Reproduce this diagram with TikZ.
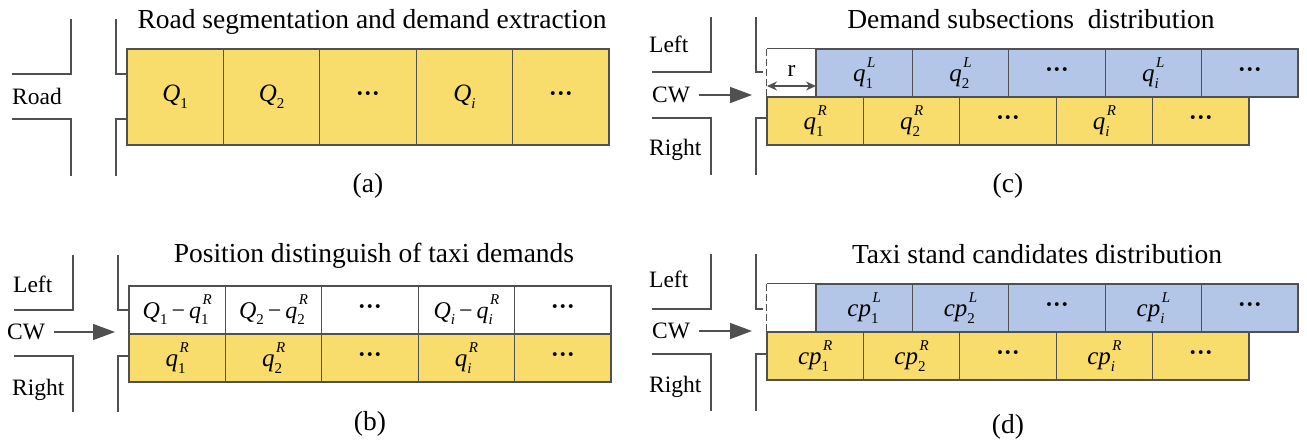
\documentclass[tikz,border=0pt]{standalone}
\usepackage{fontspec}
\setmainfont{Liberation Serif}
\usetikzlibrary{arrows.meta}
\definecolor{cy}{HTML}{F8DC6C}
\definecolor{cb}{HTML}{B4C6E7}
\definecolor{ln}{HTML}{505050}
\newcommand\scr[1]{{\fontsize{15}{15}\selectfont #1}}
\newcommand\qsym[3]{\textit{#1}\rlap{\raisebox{-0.28em}{\scr{#2}}}\kern0.06em\raisebox{0.55em}{\scr{\textit{#3}}}}
\newcommand\Qs[1]{\textit{Q}\raisebox{-0.28em}{\scr{#1}}}
\newcommand\dts{{\bfseries\fontsize{24}{24}\selectfont\textperiodcentered\textperiodcentered\textperiodcentered}}
\begin{document}
\begin{tikzpicture}[x=1pt,y=-1pt,
  cell/.style={draw=ln, line width=1.2pt, minimum width=96.4pt, inner sep=0pt, font=\fontsize{25}{25}\selectfont},
  cellY/.style={cell, fill=cy},
  cellB/.style={cell, fill=cb},
  cellW/.style={cell, fill=white},
  wall/.style={draw=ln, line width=1.4pt},
  lbl/.style={anchor=base west, inner sep=0pt, font=\fontsize{23.5}{24}\selectfont},
  ttl/.style={anchor=base, inner sep=0pt, font=\fontsize{27.5}{28}\selectfont},
  cwarrow/.style={draw=ln, line width=1.5pt, shorten <=9pt, -{Triangle[length=22pt,width=16pt]}},
  rarrow/.style={draw=ln, line width=1.3pt, {Stealth[length=10pt,width=9pt]}-{Stealth[length=10pt,width=9pt]}}
]
\useasboundingbox (0,0) rectangle (1307,447);

% ---------------- (a) ----------------
\path[wall] (71,19) -- (71,74) -- (12,74);
\path[wall] (12,119) -- (71,119) -- (71,176);
\path[wall] (116,19) -- (116,74) -- (127,74);
\path[wall] (127,119) -- (116,119) -- (116,176);
\node[lbl] (roada) at (12,104) {Road};
\node[ttl] (ta) at (372,28) {Road segmentation and demand extraction};
\node[cellY, minimum height=96pt] (a1) at (175.2,97) {\Qs{1}};
\node[cellY, minimum height=96pt] (a2) at (271.6,97) {\Qs{2}};
\node[cellY, minimum height=96pt] (a3) at (368,97) {\dts};
\node[cellY, minimum height=96pt] (a4) at (464.4,97) {\Qs{\textit{i}}};
\node[cellY, minimum height=96pt] (a5) at (560.8,97) {\dts};
\node[ttl] (capa) at (368,192) {(a)};

% ---------------- (b) ----------------
\path[wall] (73,255) -- (73,310) -- (14,310);
\path[wall] (14,356) -- (73,356) -- (73,412);
\path[wall] (118,255) -- (118,310) -- (129,310);
\path[wall] (129,356) -- (118,356) -- (118,412);
\node[lbl] (leftb) at (13,292) {Left};
\node[lbl] (rightb) at (12,395) {Right};
\node[lbl, anchor=west] (cwb) at (7,332) {CW};
\coordinate (cwbE) at (115,332);
\draw[cwarrow] (cwb.east) -- (cwbE);
\node[ttl] (tb) at (374,262) {Position distinguish of taxi demands};
\node[cellW, minimum height=48pt, font=\fontsize{24}{24}\selectfont] (bw1) at (177.2,310) {\Qs{1}\,−\,\qsym{q}{1}{R}};
\node[cellW, minimum height=48pt, font=\fontsize{24}{24}\selectfont] (bw2) at (273.6,310) {\Qs{2}\,−\,\qsym{q}{2}{R}};
\node[cellW, minimum height=48pt] (bw3) at (370,310) {\dts};
\node[cellW, minimum height=48pt, font=\fontsize{24}{24}\selectfont] (bw4) at (466.4,310) {\Qs{\textit{i}}\,−\,\qsym{q}{\textit{i}}{R}};
\node[cellW, minimum height=48pt] (bw5) at (562.8,310) {\dts};
\node[cellY, minimum height=48pt] (by1) at (177.2,358) {\qsym{q}{1}{R}};
\node[cellY, minimum height=48pt] (by2) at (273.6,358) {\qsym{q}{2}{R}};
\node[cellY, minimum height=48pt] (by3) at (370,358) {\dts};
\node[cellY, minimum height=48pt] (by4) at (466.4,358) {\qsym{q}{\textit{i}}{R}};
\node[cellY, minimum height=48pt] (by5) at (562.8,358) {\dts};
\node[ttl] (capb) at (370,430) {(b)};

% ---------------- (c) ----------------
\path[wall] (711,17) -- (711,72) -- (652,72);
\path[wall] (652,118) -- (711,118) -- (711,175);
\path[wall] (756,17) -- (756,72) -- (763,72);
\path[wall] (767,118) -- (756,118) -- (756,175);
\node[lbl] (leftc) at (649,52) {Left};
\node[lbl] (rightc) at (649,155) {Right};
\node[lbl, anchor=west] (cwc) at (652,95) {CW};
\coordinate (cwcE) at (752,95);
\draw[cwarrow] (cwc.east) -- (cwcE);
\node[ttl] (tc) at (1031,28) {Demand subsections \ distribution};
\node[inner sep=0pt, minimum width=49pt, minimum height=48pt] (cw0) at (791.5,73) {};
\draw[ln, line width=1.2pt] (cw0.north west) -- (cw0.north east);
\draw[ln, line width=1.2pt, dash pattern=on 7pt off 3pt] (cw0.north west) -- (cw0.south west);
\node[cellB, minimum height=48pt] (cb1) at (864.2,73) {\qsym{q}{1}{L}};
\node[cellB, minimum height=48pt] (cb2) at (960.6,73) {\qsym{q}{2}{L}};
\node[cellB, minimum height=48pt] (cb3) at (1057,73) {\dts};
\node[cellB, minimum height=48pt] (cb4) at (1153.4,73) {\qsym{q}{\textit{i}}{L}};
\node[cellB, minimum height=48pt] (cb5) at (1249.8,73) {\dts};
\node[cellY, minimum height=48pt] (cy1) at (815.2,121) {\qsym{q}{1}{R}};
\node[cellY, minimum height=48pt] (cy2) at (911.6,121) {\qsym{q}{2}{R}};
\node[cellY, minimum height=48pt] (cy3) at (1008,121) {\dts};
\node[cellY, minimum height=48pt] (cy4) at (1104.4,121) {\qsym{q}{\textit{i}}{R}};
\node[cellY, minimum height=48pt] (cy5) at (1200.8,121) {\dts};
\coordinate (r1) at (767,86);
\coordinate (r2) at (816,86);
\draw[rarrow] (r1) -- (r2);
\node[lbl, anchor=base] (rl) at (791.5,76) {r};
\node[ttl] (capc) at (1008,192) {(c)};

% ---------------- (d) ----------------
\path[wall] (711,254) -- (711,309) -- (652,309);
\path[wall] (652,354) -- (711,354) -- (711,411);
\path[wall] (756,254) -- (756,309) -- (763,309);
\path[wall] (767,354) -- (756,354) -- (756,411);
\node[lbl] (leftd) at (649,287) {Left};
\node[lbl] (rightd) at (649,392) {Right};
\node[lbl, anchor=west] (cwd) at (652,331) {CW};
\coordinate (cwdE) at (752,331);
\draw[cwarrow] (cwd.east) -- (cwdE);
\node[ttl] (td) at (1037,263) {Taxi stand candidates distribution};
\node[inner sep=0pt, minimum width=49pt, minimum height=48pt] (dw0) at (791.5,308) {};
\draw[ln, line width=1.2pt] (dw0.north west) -- (dw0.north east);
\draw[ln, line width=1.2pt, dash pattern=on 7pt off 3pt] (dw0.north west) -- (dw0.south west);
\node[cellB, minimum height=48pt] (db1) at (864.2,308) {\qsym{cp}{1}{L}};
\node[cellB, minimum height=48pt] (db2) at (960.6,308) {\qsym{cp}{2}{L}};
\node[cellB, minimum height=48pt] (db3) at (1057,308) {\dts};
\node[cellB, minimum height=48pt] (db4) at (1153.4,308) {\qsym{cp}{\textit{i}}{L}};
\node[cellB, minimum height=48pt] (db5) at (1249.8,308) {\dts};
\node[cellY, minimum height=48pt] (dy1) at (815.2,356) {\qsym{cp}{1}{R}};
\node[cellY, minimum height=48pt] (dy2) at (911.6,356) {\qsym{cp}{2}{R}};
\node[cellY, minimum height=48pt] (dy3) at (1008,356) {\dts};
\node[cellY, minimum height=48pt] (dy4) at (1104.4,356) {\qsym{cp}{\textit{i}}{R}};
\node[cellY, minimum height=48pt] (dy5) at (1200.8,356) {\dts};
\node[ttl] (capd) at (1008,433) {(d)};
\end{tikzpicture}
\end{document}
